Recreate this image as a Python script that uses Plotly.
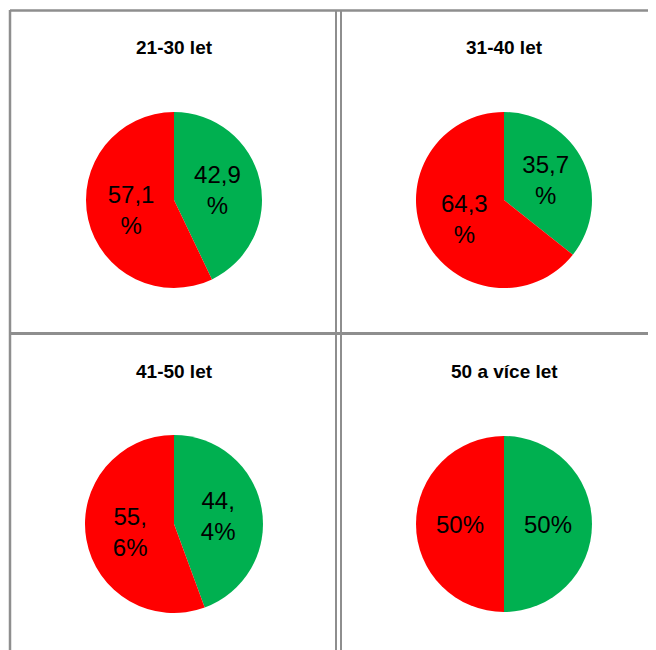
import plotly.graph_objects as go

titles = ["21-30 let", "31-40 let", "41-50 let", "50 a více let"]
green_values = [42.9, 35.7, 44.4, 50.0]
red_values = [57.1, 64.3, 55.6, 50.0]
green_labels = ["42,9<br>%", "35,7<br>%", "44,<br>4%", "50%"]
red_labels = ["57,1<br>%", "64,3<br>%", "55,<br>6%", "50%"]

W, H = 656, 650
OFF = 8  # page body margin offset
GREEN = "#00B050"
RED = "#FF0000"
BORDER = "#8E8E8E"

# pie boxes in screen pixels (left, top, right, bottom)
boxes = [(86, 112, 262, 288), (416, 112, 592, 288),
         (82, 435, 266, 613), (416, 436, 592, 612)]
title_pos = [(174, 47), (504, 47), (174, 371), (504, 371)]


def px(x):
    return (x - OFF) / W


def py(y):
    return 1 - (y - OFF) / H


fig = go.Figure()
for i in range(4):
    l, t, r, b = boxes[i]
    fig.add_trace(go.Pie(
        values=[green_values[i], red_values[i]],
        labels=["A", "B"],
        text=[green_labels[i], red_labels[i]],
        textinfo="text",
        textposition="inside",
        insidetextorientation="horizontal",
        marker=dict(colors=[GREEN, RED], line=dict(width=0)),
        sort=False,
        direction="clockwise",
        rotation=0,
        showlegend=False,
        hoverinfo="skip",
        textfont=dict(family="Liberation Sans", size=24, color="black"),
        domain=dict(x=[px(l), px(r)], y=[py(b), py(t)]),
    ))
    x, y = title_pos[i]
    fig.add_annotation(x=px(x), y=py(y), xref="paper", yref="paper",
                       text="<b>" + titles[i] + "</b>", showarrow=False,
                       xanchor="center", yanchor="middle",
                       font=dict(family="Liberation Sans", size=19, color="black"))

shapes = []


def line(x0, y0, x1, y1, w):
    shapes.append(dict(type="line", xref="paper", yref="paper",
                       x0=px(x0), y0=py(y0), x1=px(x1), y1=py(y1),
                       line=dict(color=BORDER, width=w)))


line(10, 10.5, W + 20, 10.5, 2.5)          # top border
line(10, 10, 10, H + 20, 2.5)              # left border
line(336, 10, 336, H + 20, 2)              # divider (double)
line(341, 10, 341, H + 20, 2)
line(10, 333.5, W + 20, 333.5, 3)          # horizontal divider

fig.update_layout(width=W, height=H, margin=dict(l=0, r=0, t=0, b=0),
                  paper_bgcolor="white", plot_bgcolor="white", shapes=shapes)

fig.write_html("out.html")
